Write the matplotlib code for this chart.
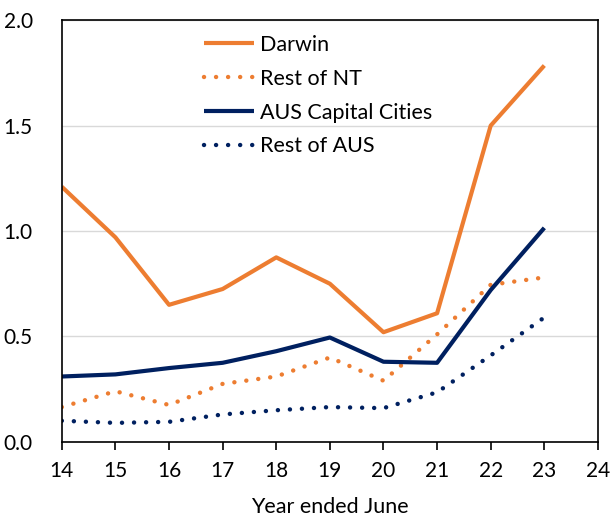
import matplotlib
matplotlib.use("Agg")
import matplotlib.pyplot as plt

plt.rcParams['font.family'] = ['Lato', 'DejaVu Sans']

years = [14, 15, 16, 17, 18, 19, 20, 21, 22, 23]
darwin = [1.21, 0.97, 0.65, 0.725, 0.875, 0.75, 0.52, 0.61, 1.50, 1.785]
rest_nt = [0.165, 0.24, 0.175, 0.275, 0.31, 0.40, 0.29, 0.51, 0.745, 0.78]
aus_cap = [0.31, 0.32, 0.35, 0.375, 0.43, 0.495, 0.38, 0.375, 0.72, 1.015]
rest_aus = [0.10, 0.09, 0.095, 0.13, 0.15, 0.165, 0.16, 0.235, 0.41, 0.59]

xticks = [14, 15, 16, 17, 18, 19, 20, 21, 22, 23, 24]
yticks = [0.0, 0.5, 1.0, 1.5, 2.0]

orange = '#ED7D31'
navy = '#002060'
dots = (0, (0.01, 2.7))

fig = plt.figure(figsize=(6.12, 5.18), dpi=100)
ax = fig.add_axes([0.101, 0.147, 0.876, 0.814])

ax.plot(years, darwin, color=orange, lw=3, label='Darwin', solid_capstyle='butt')
ax.plot(years, rest_nt, color=orange, lw=3.2, ls=dots, label='Rest of NT', dash_capstyle='round')
ax.plot(years, aus_cap, color=navy, lw=3, label='AUS Capital Cities', solid_capstyle='butt')
ax.plot(years, rest_aus, color=navy, lw=3.2, ls=dots, label='Rest of AUS', dash_capstyle='round')

ax.set_xlim(14, 24)
ax.set_ylim(0, 2.0)
ax.set_xticks(xticks)
ax.set_xticklabels([str(t) for t in xticks])
ax.set_yticks(yticks)
ax.set_yticklabels([f'{t:.1f}' for t in yticks])
ax.grid(axis='y', color='#D9D9D9', lw=1)
ax.set_axisbelow(True)
ax.tick_params(axis='y', length=0, labelsize=15, pad=21)
ax.tick_params(axis='x', length=6, width=1.2, direction='out', labelsize=15, pad=8)
for s in ax.spines.values():
    s.set_linewidth(1.2)
    s.set_color('black')
ax.set_xlabel('Year ended June', fontsize=15.5, labelpad=11)

leg = ax.legend(loc='upper left', bbox_to_anchor=(0.23, 1.012), frameon=False,
                fontsize=15.5, handlelength=2.3, handletextpad=0.3, labelspacing=0.65)

fig.savefig('out.png', dpi=100)
